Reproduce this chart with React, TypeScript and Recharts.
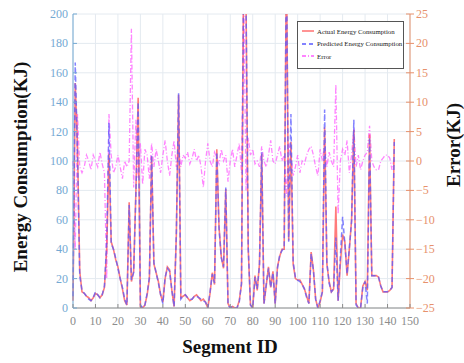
import { CartesianGrid, ComposedChart, Line, XAxis, YAxis } from "recharts"

// energy per segment (KJ)
const actual = [
  5, 153, 110, 25, 11, 10, 8, 7, 5, 7,
  10, 9, 7, 9, 14, 40, 105, 45, 40, 33,
  28, 20, 13, 5, 2, 72, 18, 25, 80, 143,
  1, 0, 2, 9, 20, 103, 30, 24, 18, 9,
  4, 20, 28, 26, 12, 1, 50, 145, 7, 8,
  9, 7, 5, 6, 8, 9, 7, 5, 6, 4,
  0, 10, 24, 16, 108, 55, 35, 27, 81, 3,
  0, 1, 0, 0, 5, 16, 240, 210, 40, 2,
  0, 22, 12, 30, 105, 3, 15, 28, 14, 25,
  3, 28, 35, 40, 40, 240, 46, 113, 30, 20,
  19, 19, 16, 13, 8, 3, 38, 26, 6, 0,
  4, 11, 123, 30, 18, 11, 13, 69, 5, 30,
  50, 45, 22, 40, 60, 121, 3, 0, 0, 15,
  18, 12, 118, 22, 22, 22, 21, 15, 11, 11,
  11, 12, 14, 115,
]

const predicted = [
  8, 167, 105, 22, 12, 10, 8, 6, 5, 7,
  11, 9, 7, 9, 15, 45, 126, 44, 40, 34,
  27, 20, 14, 6, 2, 70, 19, 24, 78, 140,
  2, 0, 2, 10, 21, 104, 31, 24, 17, 9,
  3, 21, 27, 25, 12, 1, 51, 146, 6, 8,
  9, 7, 6, 6, 8, 8, 7, 6, 5, 4,
  0, 11, 23, 17, 106, 54, 34, 28, 82, 2,
  0, 1, 0, 0, 4, 17, 240, 210, 41, 2,
  0, 21, 13, 29, 106, 3, 16, 27, 14, 24,
  3, 27, 36, 39, 41, 240, 45, 132, 31, 21,
  19, 18, 16, 13, 7, 3, 37, 26, 6, 0,
  5, 11, 135, 31, 17, 11, 13, 48, 5, 35,
  62, 44, 23, 41, 59, 128, 2, 0, 0, 14,
  18, 3, 116, 22, 22, 22, 21, 15, 11, 11,
  11, 12, 14, 113,
]

// error (KJ), right axis
const errorVals = [
  0, -15, 8, -1, -2, -1, 1, 0, -1.5, 1,
  0, -1, 1.5, -0.5, -2, -20, 8, 1, -2, -1,
  1, -1, -3, 0, -1, 0, 22.5, -4.5, 7, -3,
  3, -4, 2, 1, -3, 3, -1, 2, 0, -2,
  1, 3.5, 0, -2.5, 1, 3.5, -1, 2, -1, 1,
  0.5, 1.5, -0.5, 0.5, 2, 0, 1, -1, -4.5, 0,
  3, 0, -1, 1.5, 0.5, -0.5, 2, 0, 1, -3.5,
  0, 2, -1, 1, 3, -2, 30, -5, 4, 1,
  2, -0.5, 0, -1, 2.5, 0, -1, 1, 3.5, 0,
  -0.5, 1, 2.5, 0, 1, -6, 3, 1, -2.5, -1,
  1, -2, 0, -0.5, 1, 2, 2.5, 1, -1, -2.5,
  2, 0, 3, -1, 1.5, 0, -1, 13, -9, 0,
  2, 1, 3.5, -2, 1, 5.5, -1, 1, -1.5, 0,
  1, 1.5, 6, 0, -1, -1.5, -1.5, 0, 0.5, 1,
  1, 0.5, -1.5, 0.5,
]

const xTicks = [0, 10, 20, 30, 40, 50, 60, 70, 80, 90, 100, 110, 120, 130, 140, 150]
const energyTicks = [0, 20, 40, 60, 80, 100, 120, 140, 160, 180, 200]
const errorTicks = [-25, -20, -15, -10, -5, 0, 5, 10, 15, 20, 25]

const data = actual.map((v, i) => ({
  segment: i,
  actual: v,
  predicted: predicted[i],
  error: errorVals[i],
}))

const W = 464
const H = 363
const PLOT = { left: 73, right: 410, top: 14, bottom: 308 }
const SERIF = "'Liberation Serif', 'Times New Roman', serif"

const LEFT_COLOR = "#74a9d3"
const RIGHT_COLOR = "#e7916c"
const X_COLOR = "#8c8c8c"
const RED = "#ff5a5a"
const BLUE = "#5a5aff"
const MAGENTA = "#ff5cff"

const leftTick = (props: any) => {
  const { y, payload } = props
  return (
    <g>
      <line x1={PLOT.left} x2={PLOT.left + 4} y1={y} y2={y} stroke={LEFT_COLOR} />
      <text x={PLOT.left - 5} y={y} dy={4} textAnchor="end" fill={LEFT_COLOR} fontSize={12} fontFamily={SERIF}>
        {payload.value}
      </text>
    </g>
  )
}

const rightTick = (props: any) => {
  const { y, payload } = props
  return (
    <g>
      <line x1={PLOT.right - 4} x2={PLOT.right} y1={y} y2={y} stroke={RIGHT_COLOR} />
      <line x1={PLOT.right} x2={PLOT.right + 4} y1={y} y2={y} stroke={RIGHT_COLOR} />
      <text x={PLOT.right + 6} y={y} dy={4} textAnchor="start" fill={RIGHT_COLOR} fontSize={12} fontFamily={SERIF}>
        {payload.value < 0 ? `\u2212${Math.abs(payload.value)}` : payload.value}
      </text>
    </g>
  )
}

const bottomTick = (props: any) => {
  const { x, payload } = props
  return (
    <g>
      <line x1={x} x2={x} y1={PLOT.bottom - 4} y2={PLOT.bottom} stroke={X_COLOR} />
      <text x={x} y={PLOT.bottom + 17} textAnchor="middle" fill={X_COLOR} fontSize={12} fontFamily={SERIF}>
        {payload.value}
      </text>
    </g>
  )
}

const topTick = (props: any) => {
  const { x } = props
  return <line x1={x} x2={x} y1={PLOT.top} y2={PLOT.top + 4} stroke={X_COLOR} />
}

const legendItems = [
  { label: "Actual Energy Consumption", color: RED, dash: undefined },
  { label: "Predicted Energy Consumption", color: BLUE, dash: "4 3" },
  { label: "Error", color: MAGENTA, dash: "4 2 1 2" },
]

const titleStyle = {
  position: "absolute" as const,
  fontFamily: SERIF,
  fontWeight: 700,
  fontSize: 19,
  color: "#111",
  whiteSpace: "nowrap" as const,
  textAlign: "center" as const,
  lineHeight: "24px",
  height: 24,
}

export default function App() {
  return (
    <div style={{ position: "absolute", left: 0, top: 0, width: W, height: H, background: "#fff" }}>
      <ComposedChart width={W} height={H} data={data} margin={{ top: PLOT.top, right: 0, bottom: 0, left: 0 }}>
        <CartesianGrid stroke="#e4eaf0" horizontal vertical />
        <XAxis
          dataKey="segment"
          type="number"
          domain={[0, 150]}
          ticks={xTicks}
          interval={0}
          height={H - PLOT.bottom}
          stroke={X_COLOR}
          tickLine={false}
          tick={bottomTick}
        />
        <XAxis
          xAxisId="top"
          orientation="top"
          type="number"
          domain={[0, 150]}
          ticks={xTicks}
          interval={0}
          height={0}
          stroke="#b0b0b0"
          tickLine={false}
          tick={topTick}
        />
        <YAxis
          type="number"
          domain={[0, 200]}
          ticks={energyTicks}
          interval={0}
          allowDataOverflow
          width={PLOT.left}
          stroke={LEFT_COLOR}
          tickLine={false}
          tick={leftTick}
        />
        <YAxis
          yAxisId="err"
          orientation="right"
          type="number"
          domain={[-25, 25]}
          ticks={errorTicks}
          interval={0}
          allowDataOverflow
          width={W - PLOT.right}
          stroke={RIGHT_COLOR}
          tickLine={false}
          tick={rightTick}
        />
        <Line
          yAxisId="err"
          type="linear"
          dataKey="error"
          stroke={MAGENTA}
          strokeOpacity={0.75}
          strokeWidth={1.3}
          strokeDasharray="5 2 1 2"
          dot={false}
          isAnimationActive={false}
        />
        <Line
          type="linear"
          dataKey="actual"
          stroke={RED}
          strokeOpacity={0.8}
          strokeWidth={1.6}
          dot={false}
          isAnimationActive={false}
        />
        <Line
          type="linear"
          dataKey="predicted"
          stroke={BLUE}
          strokeOpacity={0.75}
          strokeWidth={1.5}
          strokeDasharray="5 3"
          dot={false}
          isAnimationActive={false}
        />
      </ComposedChart>

      <div
        style={{
          position: "absolute",
          left: 297,
          top: 21,
          width: 105,
          height: 43,
          border: "1px solid #555",
          background: "#fff",
          boxSizing: "content-box",
          paddingTop: 3,
        }}
      >
        {legendItems.map((item) => (
          <div key={item.label} style={{ display: "flex", alignItems: "center", height: 12.5 }}>
            <svg width={12} height={6} style={{ marginLeft: 4, marginRight: 3, flexShrink: 0 }}>
              <line x1={0} x2={12} y1={3} y2={3} stroke={item.color} strokeWidth={1.3} strokeDasharray={item.dash} />
            </svg>
            <span style={{ fontFamily: SERIF, fontSize: 6.8, color: "#222", whiteSpace: "nowrap" }}>{item.label}</span>
          </div>
        ))}
      </div>

      <div style={{ ...titleStyle, left: 21 - 130, top: 167 - 12, width: 260, transform: "rotate(-90deg)" }}>
        Energy Consumption(KJ)
      </div>
      <div style={{ ...titleStyle, left: 454 - 60, top: 145 - 12, width: 120, transform: "rotate(-90deg)" }}>
        Error(KJ)
      </div>
      <div style={{ ...titleStyle, left: 230 - 80, top: 335, width: 160 }}>Segment ID</div>
    </div>
  )
}
